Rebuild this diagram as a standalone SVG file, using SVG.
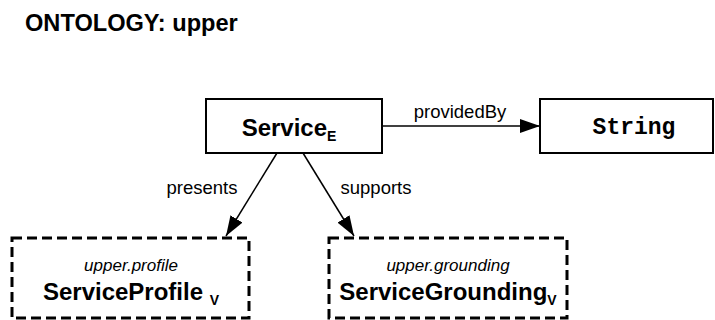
<svg xmlns="http://www.w3.org/2000/svg" width="715" height="320" viewBox="0 0 715 320">
<defs>
<style>
.t{font-family:"Liberation Sans",Arial,sans-serif;fill:#000}
.box{fill:#fff;stroke:#000;stroke-width:2}
.dbox{fill:#fff;stroke:#000;stroke-width:3;stroke-dasharray:10,5}
.edge{stroke:#000;stroke-width:1.5;fill:none}
.lbl{font-family:"Liberation Sans",Arial,sans-serif;font-size:18.5px;fill:#000}
.nm{font-family:"Liberation Sans",Arial,sans-serif;font-size:24px;font-weight:bold;fill:#000}
.sub{font-size:14px}
.pkg{font-family:"Liberation Sans",Arial,sans-serif;font-size:17px;font-style:italic;fill:#000}
</style>
<marker id="ah" viewBox="0 0 20 14" refX="20" refY="7" markerWidth="20" markerHeight="14" markerUnits="userSpaceOnUse" orient="auto">
<path d="M0,0 L20,7 L0,14 z" fill="#000"/>
</marker>
</defs>
<rect width="715" height="320" fill="#fff"/>
<text class="t" x="25" y="31" font-size="23.6" font-weight="bold">ONTOLOGY: upper</text>
<g id="connectors">
<line class="edge" x1="382" y1="126" x2="540" y2="126" marker-end="url(#ah)"/>
<text class="lbl" x="460" y="118" text-anchor="middle">providedBy</text>
<line class="edge" x1="277" y1="153" x2="226" y2="236" marker-end="url(#ah)"/>
<text class="lbl" x="202" y="194" text-anchor="middle">presents</text>
<line class="edge" x1="303" y1="153" x2="354" y2="236" marker-end="url(#ah)"/>
<text class="lbl" x="376" y="194" text-anchor="middle">supports</text>
</g>
<g id="Service">
<rect class="box" x="206" y="99" width="176" height="54"/>
<text class="nm" x="289" y="136" text-anchor="middle">Service<tspan class="sub" dy="5">E</tspan></text>
</g>
<g id="String">
<rect class="box" x="540" y="99" width="173" height="54"/>
<text x="634" y="134" text-anchor="middle" font-family="'Liberation Mono','Courier New',monospace" font-weight="bold" font-size="23">String</text>
</g>
<g id="ServiceProfile">
<rect class="dbox" x="12" y="238" width="237" height="80"/>
<text class="pkg" x="131" y="271" text-anchor="middle">upper.profile</text>
<text class="nm" x="131" y="300" text-anchor="middle">ServiceProfile <tspan class="sub" dy="5">V</tspan></text>
</g>
<g id="ServiceGrounding">
<rect class="dbox" x="329" y="238" width="238" height="80"/>
<text class="pkg" x="448" y="271" text-anchor="middle">upper.grounding</text>
<text class="nm" x="448" y="300" text-anchor="middle">ServiceGrounding<tspan class="sub" dy="5">V</tspan></text>
</g>
</svg>
